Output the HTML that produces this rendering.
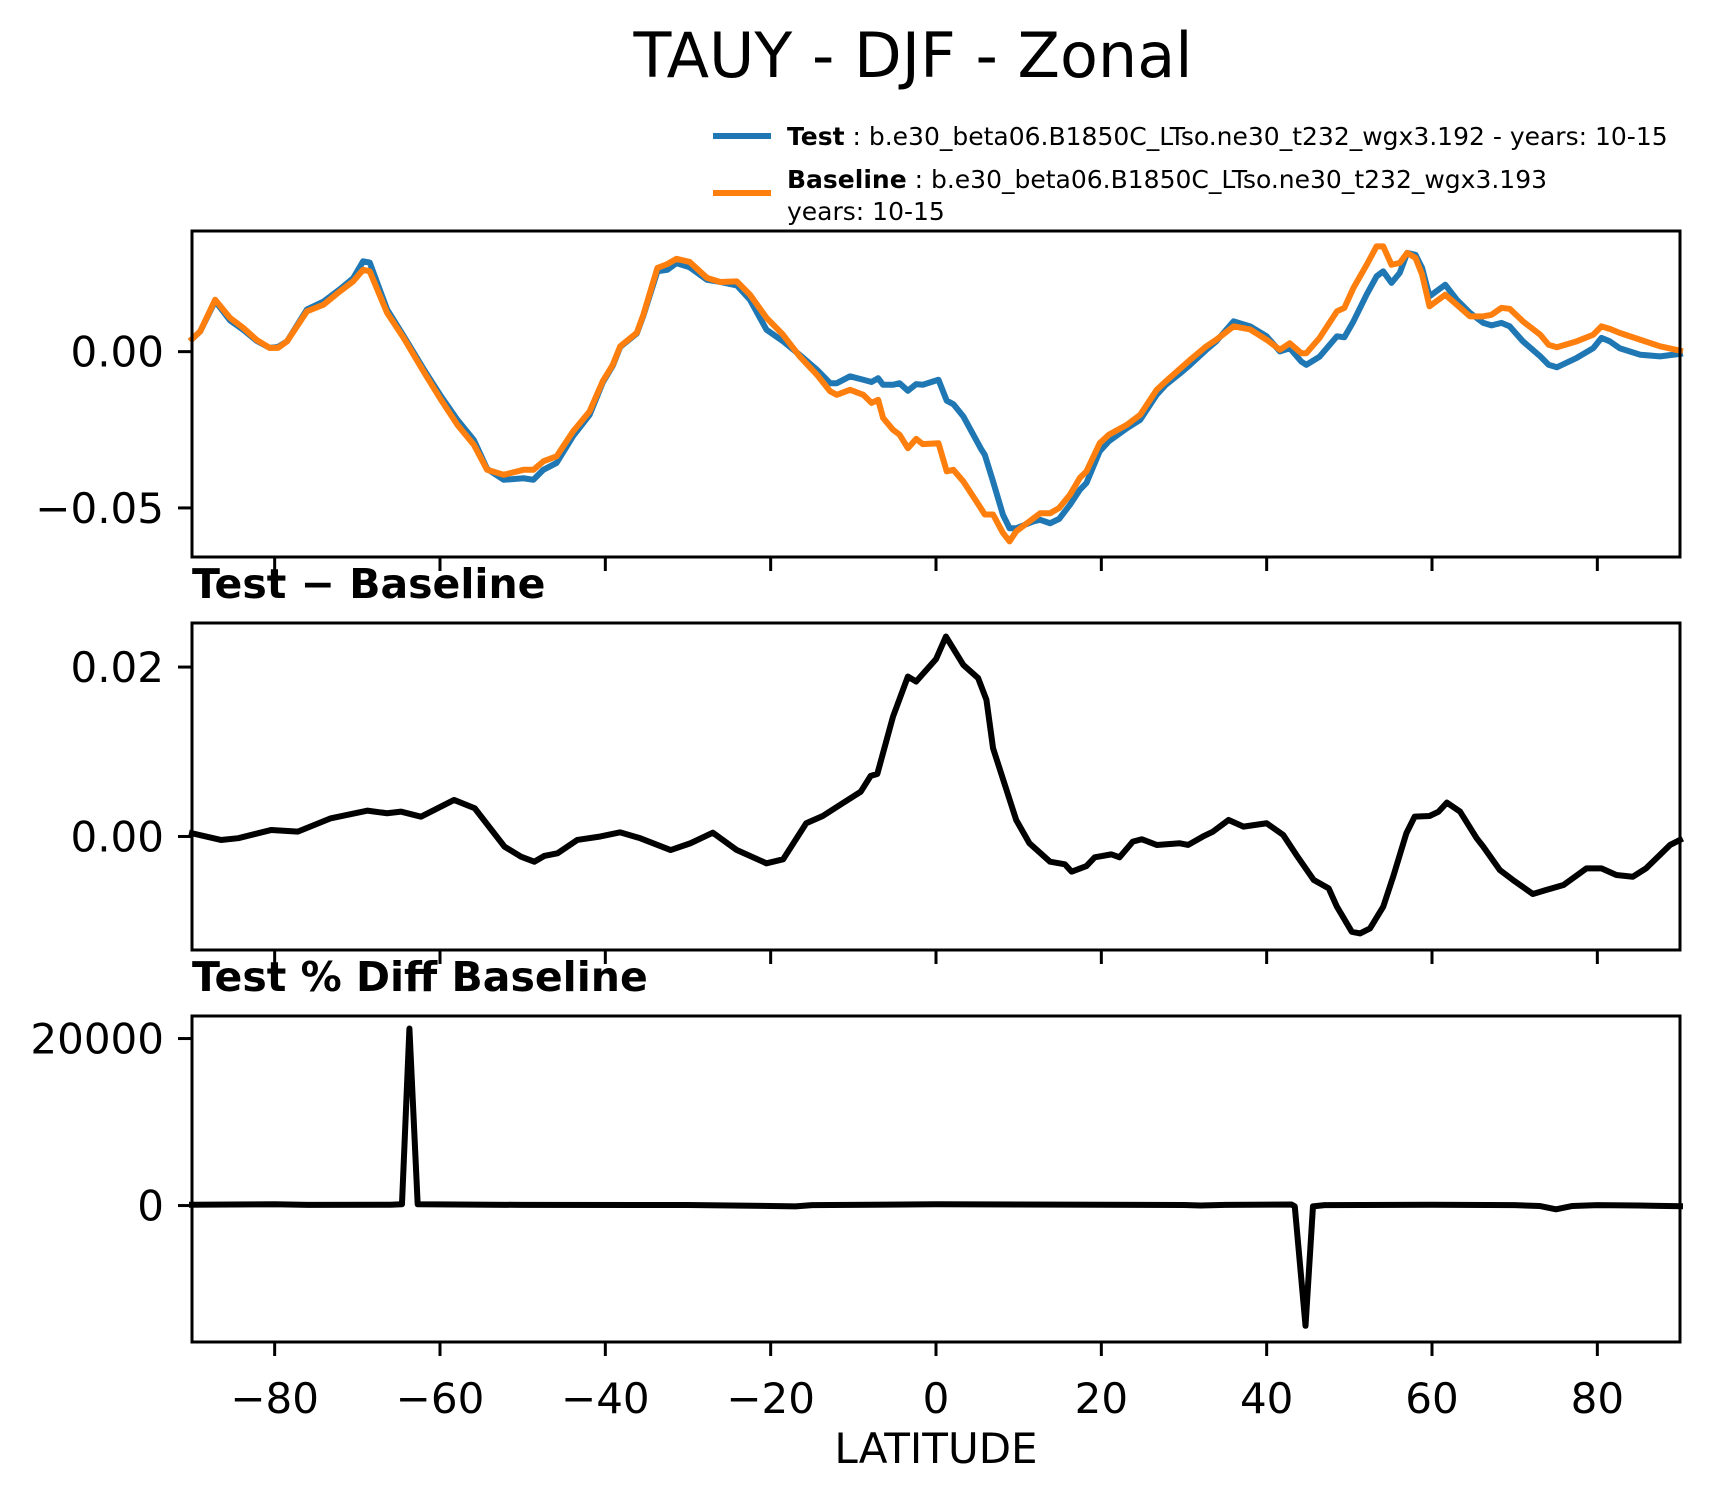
<!DOCTYPE html>
<html><head><meta charset="utf-8"><style>
html,body{margin:0;padding:0;background:#fff;}
svg{display:block;font-family:"DejaVu Sans","Liberation Sans",sans-serif;}
</style></head><body>
<svg id="fig" width="1709" height="1496" viewBox="0 0 1709 1496" xmlns="http://www.w3.org/2000/svg">
<rect width="1709" height="1496" fill="#fff"/>
<text x="913" y="77" font-size="62" text-anchor="middle">TAUY - DJF - Zonal</text>
<g>
<line x1="713" y1="136" x2="771" y2="136" stroke="#1f77b4" stroke-width="6"/>
<text x="787" y="145" font-size="25"><tspan font-weight="bold">Test</tspan> : b.e30_beta06.B1850C_LTso.ne30_t232_wgx3.192 - years: 10-15</text>
<line x1="713" y1="193" x2="771" y2="193" stroke="#ff7f0e" stroke-width="6"/>
<text x="787" y="188" font-size="25"><tspan font-weight="bold">Baseline</tspan> : b.e30_beta06.B1850C_LTso.ne30_t232_wgx3.193</text>
<text x="787" y="220" font-size="25">years: 10-15</text>
</g>
<text x="192" y="598" font-size="41" font-weight="bold">Test − Baseline</text>
<text x="192" y="991" font-size="41" font-weight="bold">Test % Diff Baseline</text>
<text x="936" y="1463" font-size="42" text-anchor="middle">LATITUDE</text>
<g id="plots"></g>
</svg>
<script>
// Panel 1 data (values in units of 1e-3)
const lat1 = [-90,-89,-87.2,-85.4,-83.8,-82.2,-80.6,-79.6,-78.5,-76.1,-74.1,-72.1,-70.5,-69.3,-68.5,-66.4,-64.4,-62,-60,-57.9,-55.9,-54.3,-52.3,-49.9,-48.7,-47.5,-45.9,-43.9,-41.9,-40.3,-39.1,-38.2,-36.2,-35.4,-33.7,-32.5,-31.4,-29.8,-27.7,-26.1,-24.1,-22.5,-20.5,-18.5,-16.5,-14.4,-12.8,-12,-10.4,-8.8,-7.8,-7,-6.4,-5.2,-4.4,-3.4,-2.4,-1.6,0.3,1.3,2.1,3.3,5.4,5.9,6.9,8.1,8.9,9.7,11.8,12.6,13.8,14.9,16.2,17.4,18.2,19.8,20.9,23.1,24.7,26.7,27.8,29.5,30.7,32.7,33.9,36,38,40,41.6,42.8,44.2,44.8,46.4,48.5,49.4,50.5,52.1,53.3,54.1,55.1,56.1,57,58,58.8,59.7,61.6,63,64.6,66.2,67.2,68.4,69.4,71,73.1,74.1,75.1,77.5,79.5,80.5,81.5,82.7,85.2,87.6,90];
const testVals = [4,6.5,16.2,10,7,3.5,1.2,1.5,3.3,13.5,16,20,23.5,28.9,28.5,13.5,5,-5.5,-13.8,-21.8,-28.3,-37.5,-41,-40.5,-41,-37.8,-35.6,-27,-20.2,-9.8,-4.5,1.5,5.8,11.5,25.7,26.2,28.3,27,23,22.3,21.2,16.6,7,3.3,-1,-5.8,-10.1,-10.1,-7.9,-9,-9.7,-8.5,-10.6,-10.6,-10.1,-12.5,-10.4,-10.6,-9,-15.7,-16.8,-20.7,-30.9,-33,-41.5,-52.2,-56.5,-56.5,-54.3,-53.8,-54.9,-53.5,-49,-44.2,-42,-31.9,-28.7,-24.5,-21.8,-13.8,-10.6,-7,-4.3,0.6,3.3,9.7,8.1,4.9,0.1,1.1,-3.2,-4.2,-1.6,4.9,4.6,9.7,18.3,24.1,25.7,22,25.2,31.6,31,26.8,17.7,21.4,16.6,12.4,9.2,8.4,9.2,8.1,3.3,-1.5,-4.2,-5,-2,1.1,4.4,3.3,1.1,-1,-1.5,-0.7];
const baseVals = [4,6.5,16.6,10.8,7.6,3.8,1.2,1.2,3.3,12.9,15,19.3,22.5,26.2,25.7,12.4,4.4,-6.3,-14.9,-23.4,-29.8,-37.8,-39.4,-37.8,-37.8,-35.1,-33.5,-25.5,-19.1,-9.4,-4.2,1.7,6,11.8,26.8,28,29.7,28.7,23.6,22.3,22.5,18.2,10.8,5.4,-1.5,-7.4,-12.7,-13.8,-12.2,-13.8,-16.4,-15.4,-21.2,-25,-26.6,-30.9,-27.9,-29.6,-29.3,-38.3,-37.8,-41.5,-50,-52.1,-52.1,-58,-60.7,-57.5,-53.3,-51.7,-51.7,-50,-45.8,-40.4,-38.3,-29.3,-26.6,-23.4,-20.2,-12.2,-9.5,-5.5,-2.7,1.7,3.8,8.1,7.1,3.8,0.6,2.7,-0.5,-0.5,4.4,12.9,14,20.4,27.8,33.7,33.7,27.8,28.4,31.6,30,24.7,14.5,18.2,15,11.3,11.3,11.8,14,13.7,9.7,5.4,2.2,1.4,3.3,5.4,8.1,7.3,6,3.8,1.7,0.3];
// Panel 2 data (units 1e-3)
const lat2 = [-90,-86.5,-84.4,-80.4,-77.2,-73.2,-68.8,-66.4,-64.7,-62.3,-58.3,-55.8,-52.2,-50.2,-48.6,-47.4,-45.8,-43.4,-40.6,-38.2,-35.8,-32.1,-29.7,-27,-24.1,-20.5,-18.5,-15.7,-13.7,-11.3,-9.1,-7.9,-7.1,-5.2,-3.4,-2.4,0,1.2,3.3,5.1,6.1,6.9,9.7,11.3,13.8,15.6,16.4,18.2,19.2,21.2,22.2,23.8,24.9,26.7,29.5,30.5,32.3,33.5,35.4,37.2,40,42,43.6,45.7,47.5,48.5,50.3,51.3,52.5,54.1,55.3,56.9,57.9,59.7,60.8,61.8,63.4,65.4,66.2,68.2,69.8,72.2,73.8,75.9,78.7,80.5,82.3,84.3,85.9,88.8,90];
const diffVals = [0.38,-0.41,-0.2,0.77,0.57,2.15,3.05,2.74,2.93,2.34,4.31,3.33,-1.2,-2.39,-2.98,-2.3,-1.99,-0.41,0,0.49,-0.2,-1.6,-0.8,0.45,-1.6,-3.17,-2.7,1.56,2.42,3.92,5.29,7.15,7.38,14.15,18.88,18.29,20.93,23.6,20.26,18.69,16.13,10.42,1.95,-0.8,-2.98,-3.29,-4.15,-3.49,-2.46,-2.11,-2.46,-0.61,-0.33,-1,-0.8,-1,0,0.57,1.95,1.16,1.56,0.18,-2.19,-5.14,-6.12,-8.29,-11.25,-11.44,-10.85,-8.29,-4.75,0.38,2.34,2.42,2.93,4,2.93,-0.2,-1.2,-3.96,-5.14,-6.79,-6.32,-5.73,-3.76,-3.76,-4.55,-4.75,-3.76,-1,-0.41];
// Panel 3 data (percent)
const lat3 = [-90,-80,-76,-66,-64.6,-63.7,-62.7,-50,-30,-20,-17,-15,0,20,30,32,35,43,43.4,44.7,45.6,47,60,70,73,75,77,80,85,90];
const pctVals = [100,150,80,100,150,21200,150,80,60,-50,-100,50,150,100,60,0,80,120,-100,-14400,-100,50,100,50,-50,-450,-50,50,0,-80];
// Tick labels
const xTicks = [-80,-60,-40,-20,0,20,40,60,80];
const y1Ticks = [0,-0.05];
const y1Labels = ["0.00","−0.05"];
const y2Ticks = [0,0.02];
const y2Labels = ["0.00","0.02"];
const y3Ticks = [0,20000];
const y3Labels = ["0","20000"];

const NS = "http://www.w3.org/2000/svg";
const X0 = 192, X1 = 1680;
function xs(lat){ return X0 + (lat + 90) / 180 * (X1 - X0); }
const panels = [
  {top:231, bottom:557, vmin:-0.0657, vmax:0.0386},
  {top:623, bottom:950, vmin:-0.0134, vmax:0.0252},
  {top:1016, bottom:1342, vmin:-16340, vmax:22700}
];
function ys(p, v){ return p.bottom - (v - p.vmin) / (p.vmax - p.vmin) * (p.bottom - p.top); }
const root = document.getElementById('plots');
function el(tag, attrs){ const e = document.createElementNS(NS, tag); for (const k in attrs) e.setAttribute(k, attrs[k]); return e; }

function drawLine(p, lats, vals, scale, color, name){
  let d = '';
  for (let i = 0; i < lats.length; i++){
    d += (i ? 'L' : 'M') + xs(lats[i]).toFixed(2) + ' ' + ys(p, vals[i] * scale).toFixed(2);
  }
  const path = el('path', {d:d, fill:'none', stroke:color, 'stroke-width':6, 'stroke-linejoin':'round', 'stroke-linecap':'square'});
  
  
  root.appendChild(path);
}
function drawAxes(p, idx, yt, yl, showXLabels){
  const g = el('g', {});
  
  
  root.appendChild(g);
  const frame = el('rect', {x:X0, y:p.top, width:X1 - X0, height:p.bottom - p.top, fill:'none', stroke:'#000', 'stroke-width':3});
  
  
  g.appendChild(frame);
  xTicks.forEach(t => {
    const x = xs(t);
    const tk = el('line', {x1:x, y1:p.bottom, x2:x, y2:p.bottom + 14, stroke:'#000', 'stroke-width':3});
    
    
    g.appendChild(tk);
    if (showXLabels){
      const tx = el('text', {x:x, y:p.bottom + 71, 'font-size':42, 'text-anchor':'middle'});
      tx.textContent = (t < 0 ? '−' + Math.abs(t) : String(t));
      
      
      g.appendChild(tx);
    }
  });
  yt.forEach((t, i) => {
    const y = ys(p, t);
    const tk = el('line', {x1:X0 - 14, y1:y, x2:X0, y2:y, stroke:'#000', 'stroke-width':3});
    
    
    g.appendChild(tk);
    const tx = el('text', {x:X0 - 28, y:y + 15, 'font-size':42, 'text-anchor':'end'});
    tx.textContent = yl[i];
    
    
    g.appendChild(tx);
  });
}
drawLine(panels[0], lat1, testVals, 0.001, '#1f77b4', 'test-series-line');
drawLine(panels[0], lat1, baseVals, 0.001, '#ff7f0e', 'baseline-series-line');
drawLine(panels[1], lat2, diffVals, 0.001, '#000', 'difference-line');
drawLine(panels[2], lat3, pctVals, 1, '#000', 'percent-diff-line');
drawAxes(panels[0], 0, y1Ticks, y1Labels, false);
drawAxes(panels[1], 1, y2Ticks, y2Labels, false);
drawAxes(panels[2], 2, y3Ticks, y3Labels, true);
</script>
</body></html>
